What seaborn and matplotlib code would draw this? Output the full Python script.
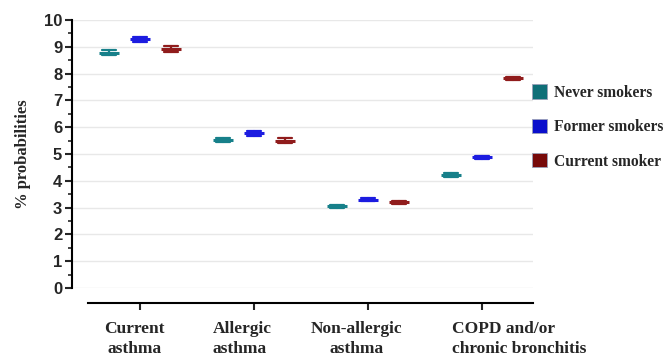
import numpy as np
import pandas as pd
import matplotlib
matplotlib.use("Agg")
import matplotlib.pyplot as plt
import matplotlib.transforms as mtrans
import seaborn as sns
from matplotlib.patches import Patch
from matplotlib.ticker import MultipleLocator

# values
categories = ["Current\nasthma", "Allergic\nasthma", "Non-allergic\nasthma",
              "COPD and/or\nchronic bronchitis"]
groups = ["Never smokers", "Former smokers", "Current smoker"]
never_mean = [8.78, 5.52, 3.05, 4.22]
former_mean = [9.28, 5.77, 3.30, 4.87]
current_mean = [8.92, 5.50, 3.20, 7.82]
half_err = [0.10, 0.08, 0.05, 0.07]

line_colors = ["#17808a", "#1c1ce0", "#901c1c"]
patch_colors = ["#0f6f78", "#0a0fcc", "#780a0a"]

# long table: lower/mean/upper per point so pi(100) spans the interval
rows = []
for g, means in zip(groups, [never_mean, former_mean, current_mean]):
    for c, m, e in zip(categories, means, half_err):
        for v in (m - e, m, m + e):
            rows.append({"cat": c, "group": g, "val": v})
df = pd.DataFrame(rows)

sns.set_style("white")
fig = plt.figure(figsize=(6.64, 3.6), dpi=100)
ax = fig.add_axes([0.1084, 0.2, 0.8027 - 0.1084, 0.7444])

sns.pointplot(data=df, x="cat", y="val", hue="group", order=categories,
              hue_order=groups, palette=line_colors, estimator="mean",
              errorbar=("pi", 100), dodge=0.54, linestyle="none",
              markers="_", markersize=14.5, markeredgewidth=2.2,
              capsize=0.12, err_kws={"linewidth": 1.6}, ax=ax, legend=False)

ax.set_xlim(-0.596, 3.447)
ax.set_ylim(0, 10)
ax.yaxis.set_major_locator(MultipleLocator(1))
ax.yaxis.set_minor_locator(MultipleLocator(0.5))
ax.grid(axis="y", color="#e8e8e8", linewidth=1.0)
ax.set_axisbelow(True)

for s in ["top", "right"]:
    ax.spines[s].set_visible(False)
ax.spines["left"].set_linewidth(1.5)
ax.spines["left"].set_color("black")
ax.spines["bottom"].set_linewidth(1.5)
ax.spines["bottom"].set_color("black")
ax.spines["bottom"].set_position(("outward", 11))
ax.spines["bottom"].set_bounds(-0.456, 3.447)

ax.tick_params(axis="y", which="major", left=True, length=5, width=1.5,
               labelsize=12, pad=2)
ax.tick_params(axis="y", which="minor", left=True, length=3, width=1.2)
ax.tick_params(axis="x", bottom=True, length=5, width=1.5, labelbottom=False)
for t in ax.get_yticklabels():
    t.set_fontweight("bold")
    t.set_family("Liberation Sans")

# category labels placed as in the reference (some left-aligned, shifted)
label_shift = [(-5.5, "center", "center"), (-41, "left", "left"),
               (-11, "center", "center"), (-30, "left", "left")]
base = ax.get_xaxis_transform()
for xpos, lab, (dx, ha, ma) in zip(ax.get_xticks(), categories, label_shift):
    tr = base + mtrans.ScaledTranslation(dx / 100, -33 / 100, fig.dpi_scale_trans)
    ax.text(xpos, 0, lab, transform=tr, ha=ha, va="top", multialignment=ma,
            fontsize=12.5, fontweight="bold", family="Liberation Serif",
            linespacing=1.35)

ax.set_xlabel("")
ax.set_ylabel("% probabilities", fontsize=12, fontweight="bold",
              family="Liberation Serif", labelpad=9)

handles = [Patch(facecolor=c, edgecolor="#9aa0b8", linewidth=0.6)
           for c in patch_colors]
fig.legend(handles, groups, loc="upper left", bbox_to_anchor=(0.78, 0.805),
           frameon=False, handlelength=0.95, handleheight=1.05,
           handletextpad=0.45, labelspacing=1.15,
           prop={"family": "Liberation Serif", "weight": "bold", "size": 11.2})

fig.savefig("out.png", dpi=100)
